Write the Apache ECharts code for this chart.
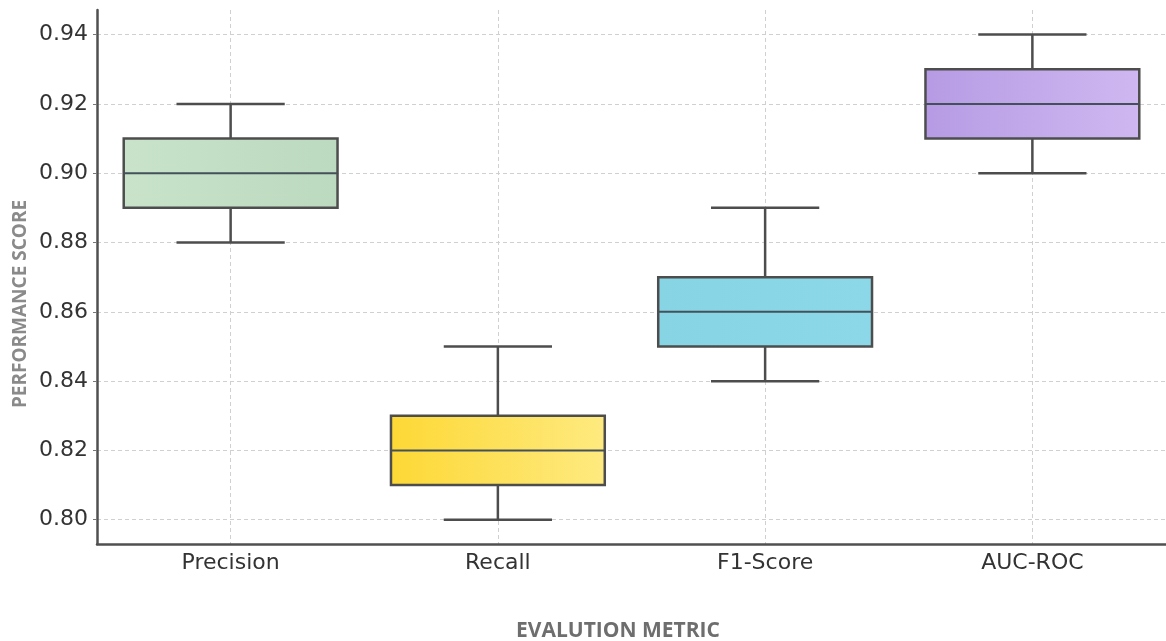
<!DOCTYPE html>
<html>
<head>
<meta charset="utf-8">
<script src="https://cdn.jsdelivr.net/npm/echarts@6/dist/echarts.min.js"></script>
<style>html,body{margin:0;padding:0;background:#fff}#c{width:1166px;height:641px}</style>
</head>
<body>
<div id="c"></div>
<script>
// ---- data ----
const categories = ['Precision', 'Recall', 'F1-Score', 'AUC-ROC'];
const whiskerLow  = [0.88, 0.80, 0.84, 0.90];
const quartile1   = [0.89, 0.81, 0.85, 0.91];
const medians     = [0.90, 0.82, 0.86, 0.92];
const quartile3   = [0.91, 0.83, 0.87, 0.93];
const whiskerHigh = [0.92, 0.85, 0.89, 0.94];
const xAxisTitle = 'EVALUTION METRIC';
const yAxisTitle = 'PERFORMANCE SCORE';

// ---- styles ----
const boxFills = [
  ['#c8e3ca', '#bcdabf'],
  ['#fdd835', '#feea80'],
  ['#86d4e4', '#8cd8e8'],
  ['#b69be4', '#cfb8f1']
];

const boxData = categories.map((c, i) => [i, whiskerLow[i], quartile1[i], medians[i], quartile3[i], whiskerHigh[i]]);

const chart = echarts.init(document.getElementById('c'), null, {renderer: 'canvas'});
const FONT = 'DejaVu Sans';
const dashed = {type: [4, 3], color: '#d0d0d0', width: 1};

chart.setOption({
  animation: false,
  backgroundColor: '#fff',
  grid: {left: 97, right: -6, top: 10, bottom: 97, containLabel: false},
  xAxis: [{
    type: 'category',
    data: categories,
    boundaryGap: true,
    axisLine: {onZero: false, lineStyle: {color: '#505050', width: 2.5}},
    axisTick: {alignWithLabel: true, inside: true, length: 5, lineStyle: {color: '#666'}},
    axisLabel: {color: '#333', fontSize: 22, fontFamily: FONT, margin: 8},
    splitLine: {show: false}
  }, {
    type: 'value',
    min: -0.5, max: 3.5,
    position: 'bottom',
    axisLine: {show: false, onZero: false}, axisTick: {show: false}, axisLabel: {show: false},
    splitLine: {show: true, showMinLine: false, showMaxLine: false, lineStyle: dashed}
  }],
  yAxis: {
    type: 'value',
    min: 0.793, max: 0.9471,
    splitNumber: 7,
    axisLine: {show: true, onZero: false, lineStyle: {color: '#505050', width: 2.5}},
    axisTick: {show: true, length: 4, lineStyle: {color: '#777'}},
    axisLabel: {color: '#333', fontSize: 22, fontFamily: FONT, margin: 9, showMinLabel: false, showMaxLabel: false,
      formatter: v => v.toFixed(2)},
    splitLine: {show: true, showMinLine: false, showMaxLine: false, lineStyle: dashed}
  },
  graphic: [{
    type: 'text', x: 618, y: 631,
    style: {text: xAxisTitle, fill: '#6e6e6e', font: 'bold 21px "Open Sans"', textAlign: 'center', textVerticalAlign: 'middle'}
  }, {
    type: 'text', x: 21, y: 304, rotation: Math.PI / 2,
    style: {text: yAxisTitle, fill: '#8a8a8a', font: 'bold 19px "Open Sans"', textAlign: 'center', textVerticalAlign: 'middle'}
  }],
  series: [{
    type: 'custom',
    xAxisIndex: 0,
    data: boxData,
    renderItem: function (params, api) {
      const i = api.value(0);
      const band = api.size([1, 0])[0];
      const bw = band * 0.8, cw = band * 0.405;
      const pLo = api.coord([i, api.value(1)]);
      const pQ1 = api.coord([i, api.value(2)]);
      const pMd = api.coord([i, api.value(3)]);
      const pQ3 = api.coord([i, api.value(4)]);
      const pHi = api.coord([i, api.value(5)]);
      const x = pMd[0];
      const stroke = '#4d4d4d';
      const fills = boxFills[i];
      return {
        type: 'group',
        children: [
          {type: 'line', shape: {x1: x, y1: pQ1[1], x2: x, y2: pLo[1]}, style: {stroke: stroke, lineWidth: 2.5}},
          {type: 'line', shape: {x1: x, y1: pQ3[1], x2: x, y2: pHi[1]}, style: {stroke: stroke, lineWidth: 2.5}},
          {type: 'line', shape: {x1: x - cw / 2, y1: pLo[1], x2: x + cw / 2, y2: pLo[1]}, style: {stroke: stroke, lineWidth: 2.5}},
          {type: 'line', shape: {x1: x - cw / 2, y1: pHi[1], x2: x + cw / 2, y2: pHi[1]}, style: {stroke: stroke, lineWidth: 2.5}},
          {type: 'rect', shape: {x: x - bw / 2, y: pQ3[1], width: bw, height: pQ1[1] - pQ3[1]},
            style: {fill: {type: 'linear', x: 0, y: 0, x2: 1, y2: 0, colorStops: [{offset: 0, color: fills[0]}, {offset: 1, color: fills[1]}]},
              stroke: stroke, lineWidth: 2.5}},
          {type: 'line', shape: {x1: x - bw / 2, y1: pMd[1], x2: x + bw / 2, y2: pMd[1]}, style: {stroke: '#44505a', lineWidth: 2}}
        ]
      };
    }
  }]
});
</script>
</body>
</html>
